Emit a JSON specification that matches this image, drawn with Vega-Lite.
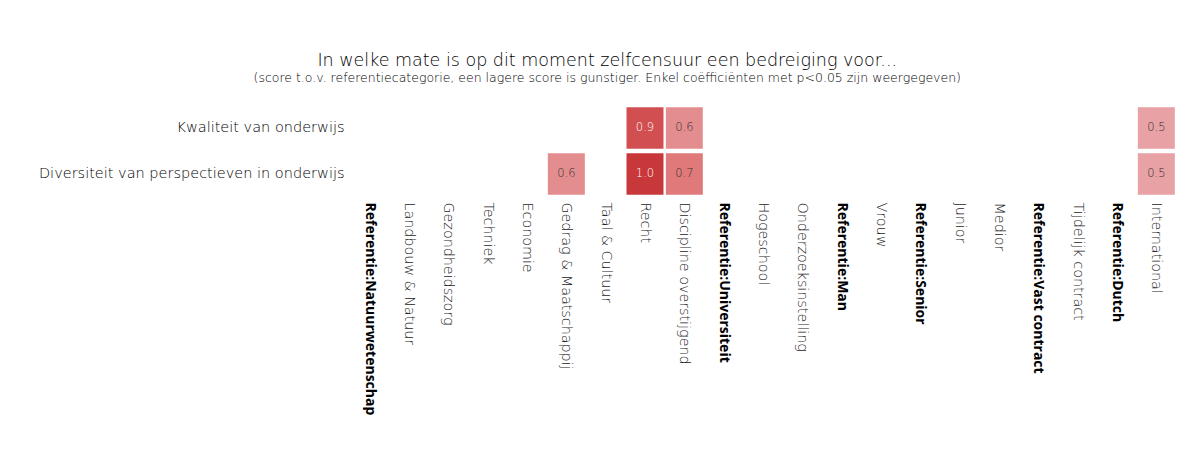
{
  "$schema": "https://vega.github.io/schema/vega-lite/v6.json",
  "width": 826,
  "height": 92,
  "autosize": {"type": "none"},
  "padding": {"left": 350, "top": 105, "right": 28, "bottom": 255},
  "background": "white",
  "title": {
    "text": "In welke mate is op dit moment zelfcensuur een bedreiging voor...",
    "subtitle": "(score t.o.v. referentiecategorie, een lagere score is gunstiger. Enkel coëfficiënten met p<0.05 zijn weergegeven)",
    "anchor": "middle",
    "frame": "bounds",
    "font": "DejaVu Sans",
    "fontSize": 17.5,
    "fontWeight": 200,
    "color": "#000000",
    "subtitleFont": "DejaVu Sans",
    "subtitleFontSize": 12.5,
    "subtitleFontWeight": 200,
    "subtitleColor": "#000000",
    "subtitlePadding": 2,
    "offset": 21
  },
  "data": {
    "values": [
      {"stelling": "Kwaliteit van onderwijs", "categorie": "Recht", "score": 0.9},
      {"stelling": "Kwaliteit van onderwijs", "categorie": "Discipline overstijgend", "score": 0.6},
      {"stelling": "Kwaliteit van onderwijs", "categorie": "International", "score": 0.5},
      {"stelling": "Diversiteit van perspectieven in onderwijs", "categorie": "Gedrag & Maatschappij", "score": 0.6},
      {"stelling": "Diversiteit van perspectieven in onderwijs", "categorie": "Recht", "score": 1.0},
      {"stelling": "Diversiteit van perspectieven in onderwijs", "categorie": "Discipline overstijgend", "score": 0.7},
      {"stelling": "Diversiteit van perspectieven in onderwijs", "categorie": "International", "score": 0.5}
    ]
  },
  "encoding": {
    "x": {
      "field": "categorie",
      "type": "nominal",
      "sort": null,
      "title": null,
      "scale": {
        "domain": ["Referentie:Natuurwetenschap", "Landbouw & Natuur", "Gezondheidszorg", "Techniek", "Economie", "Gedrag & Maatschappij", "Taal & Cultuur", "Recht", "Discipline overstijgend", "Referentie:Universiteit", "Hogeschool", "Onderzoeksinstelling", "Referentie:Man", "Vrouw", "Referentie:Senior", "Junior", "Medior", "Referentie:Vast contract", "Tijdelijk contract", "Referentie:Dutch", "International"],
        "paddingInner": 0.06,
        "paddingOuter": 0.03
      },
      "axis": {
        "orient": "bottom",
        "labelAngle": 90,
        "labelAlign": "left",
        "labelBaseline": "middle",
        "labelPadding": 5,
        "labelFont": {"condition": {"test": "indexof(datum.value, 'Referentie') === 0", "value": "Open Sans"}, "value": "DejaVu Sans"},
        "labelFontSize": {"condition": {"test": "indexof(datum.value, 'Referentie') === 0", "value": 14}, "value": 14.3},
        "labelLimit": 400,
        "labelColor": {"condition": {"test": "indexof(datum.value, 'Referentie') === 0", "value": "#000000"}, "value": "#1a1a1a"},
        "labelFontWeight": {"condition": {"test": "indexof(datum.value, 'Referentie') === 0", "value": "bold"}, "value": 200},
        "ticks": false,
        "domain": false,
        "grid": false
      }
    },
    "y": {
      "field": "stelling",
      "type": "nominal",
      "title": null,
      "scale": {
        "domain": ["Kwaliteit van onderwijs", "Diversiteit van perspectieven in onderwijs"],
        "paddingInner": 0.1,
        "paddingOuter": 0.05
      },
      "axis": {
        "labelFont": "DejaVu Sans",
        "labelFontSize": 14.5,
        "labelFontWeight": 200,
        "labelColor": "#000000",
        "labelPadding": 6,
        "labelLimit": 400,
        "ticks": false,
        "domain": false,
        "grid": false
      }
    }
  },
  "layer": [
    {
      "mark": {"type": "rect"},
      "encoding": {
        "color": {
          "field": "score",
          "type": "quantitative",
          "scale": {"domain": [0.5, 1.0], "range": ["#e8a1a4", "#c8373a"]},
          "legend": null
        }
      }
    },
    {
      "mark": {"type": "text", "font": "DejaVu Sans", "fontSize": 11.5, "fontWeight": 200},
      "encoding": {
        "text": {"field": "score", "type": "quantitative", "format": ".1f"},
        "color": {"condition": {"test": "datum.score >= 0.85", "value": "#ffffff"}, "value": "#333333"}
      }
    }
  ],
  "config": {"view": {"stroke": null}}
}
